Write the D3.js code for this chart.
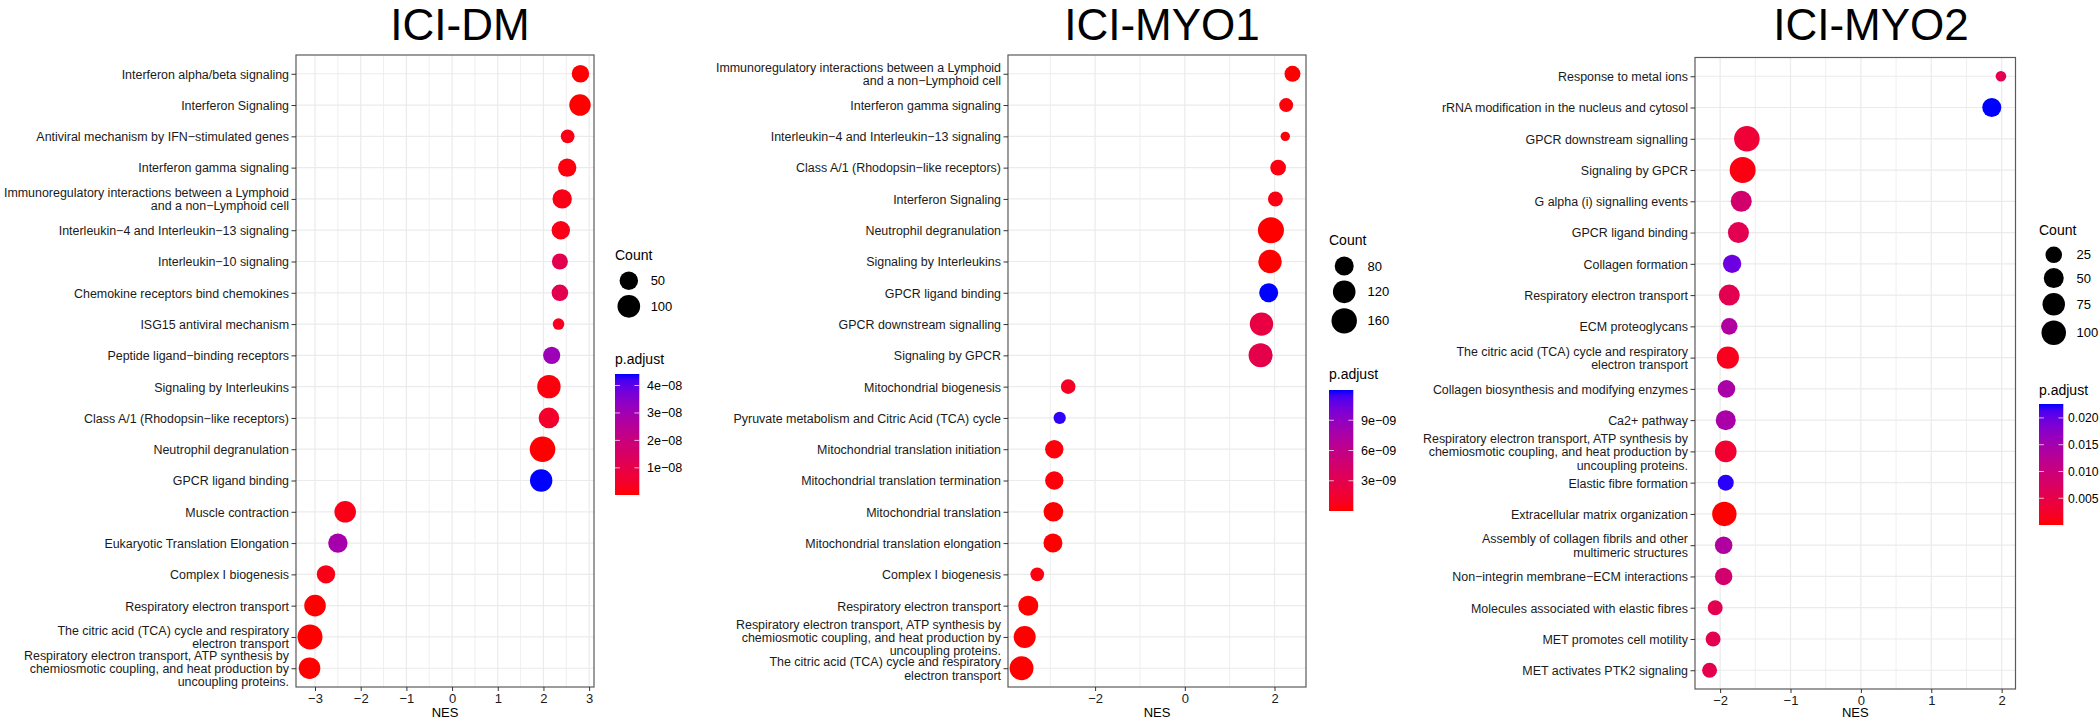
<!DOCTYPE html>
<html><head><meta charset="utf-8">
<script src="https://cdn.jsdelivr.net/npm/d3@7"></script>
<style>
body{margin:0;background:#fff;}
svg{display:block;font-family:"Liberation Sans",Arial,Helvetica,sans-serif;}
</style>
</head><body>
<svg id="c" width="2100" height="721"></svg>
<script>
// ---------------- DATA ----------------
// ICI-DM
const dmTerms = [
 "Interferon alpha/beta signaling",
 "Interferon Signaling",
 "Antiviral mechanism by IFN\u2212stimulated genes",
 "Interferon gamma signaling",
 "Immunoregulatory interactions between a Lymphoid\nand a non\u2212Lymphoid cell",
 "Interleukin\u22124 and Interleukin\u221213 signaling",
 "Interleukin\u221210 signaling",
 "Chemokine receptors bind chemokines",
 "ISG15 antiviral mechanism",
 "Peptide ligand\u2212binding receptors",
 "Signaling by Interleukins",
 "Class A/1 (Rhodopsin\u2212like receptors)",
 "Neutrophil degranulation",
 "GPCR ligand binding",
 "Muscle contraction",
 "Eukaryotic Translation Elongation",
 "Complex I biogenesis",
 "Respiratory electron transport",
 "The citric acid (TCA) cycle and respiratory\nelectron transport",
 "Respiratory electron transport, ATP synthesis by\nchemiosmotic coupling, and heat production by\nuncoupling proteins."
];
const dmNES   = [2.81, 2.80, 2.53, 2.52, 2.41, 2.38, 2.36, 2.36, 2.33, 2.18, 2.12, 2.12, 1.98, 1.95, -2.34, -2.50, -2.76, -3.00, -3.11, -3.12];
const dmCount = [41, 83, 21, 49, 59, 49, 31, 35, 18, 39, 112, 73, 150, 96, 85, 59, 49, 85, 138, 85];
const dmPadj  = [1e-10, 1e-10, 2e-9, 1e-9, 2e-9, 2e-9, 1.1e-8, 1.1e-8, 3e-9, 3.1e-8, 1e-9, 5e-9, 1e-10, 4.42e-8, 2e-9, 2.9e-8, 2e-9, 1e-10, 1e-10, 1e-10];
const dmXTicks = [-3, -2, -1, 0, 1, 2, 3];
const dmCountBreaks = [50, 100];
const dmPadjBreaks = [1e-8, 2e-8, 3e-8, 4e-8];
const dmPadjLabels = ["1e\u221208", "2e\u221208", "3e\u221208", "4e\u221208"];

// ICI-MYO1
const myo1Terms = [
 "Immunoregulatory interactions between a Lymphoid\nand a non\u2212Lymphoid cell",
 "Interferon gamma signaling",
 "Interleukin\u22124 and Interleukin\u221213 signaling",
 "Class A/1 (Rhodopsin\u2212like receptors)",
 "Interferon Signaling",
 "Neutrophil degranulation",
 "Signaling by Interleukins",
 "GPCR ligand binding",
 "GPCR downstream signalling",
 "Signaling by GPCR",
 "Mitochondrial biogenesis",
 "Pyruvate metabolism and Citric Acid (TCA) cycle",
 "Mitochondrial translation initiation",
 "Mitochondrial translation termination",
 "Mitochondrial translation",
 "Mitochondrial translation elongation",
 "Complex I biogenesis",
 "Respiratory electron transport",
 "Respiratory electron transport, ATP synthesis by\nchemiosmotic coupling, and heat production by\nuncoupling proteins.",
 "The citric acid (TCA) cycle and respiratory\nelectron transport"
];
const myo1NES   = [2.40, 2.26, 2.24, 2.08, 2.02, 1.92, 1.90, 1.87, 1.71, 1.69, -2.60, -2.79, -2.91, -2.91, -2.93, -2.94, -3.29, -3.49, -3.57, -3.64];
const myo1Count = [56, 45, 35, 54, 50, 169, 130, 80, 130, 139, 48, 39, 74, 74, 86, 80, 44, 90, 112, 136];
const myo1Padj  = [1e-11, 2e-10, 1e-10, 3e-10, 4e-10, 1e-11, 1e-11, 1.2e-8, 2.4e-9, 2.8e-9, 1e-9, 1.17e-8, 2e-10, 2e-10, 1e-11, 1e-11, 3e-10, 1e-11, 1e-11, 1e-12];
const myo1XTicks = [-2, 0, 2];
const myo1CountBreaks = [80, 120, 160];
const myo1PadjBreaks = [3e-9, 6e-9, 9e-9];
const myo1PadjLabels = ["3e\u221209", "6e\u221209", "9e\u221209"];

// ICI-MYO2
const myo2Terms = [
 "Response to metal ions",
 "rRNA modification in the nucleus and cytosol",
 "GPCR downstream signalling",
 "Signaling by GPCR",
 "G alpha (i) signalling events",
 "GPCR ligand binding",
 "Collagen formation",
 "Respiratory electron transport",
 "ECM proteoglycans",
 "The citric acid (TCA) cycle and respiratory\nelectron transport",
 "Collagen biosynthesis and modifying enzymes",
 "Ca2+ pathway",
 "Respiratory electron transport, ATP synthesis by\nchemiosmotic coupling, and heat production by\nuncoupling proteins.",
 "Elastic fibre formation",
 "Extracellular matrix organization",
 "Assembly of collagen fibrils and other\nmultimeric structures",
 "Non\u2212integrin membrane\u2212ECM interactions",
 "Molecules associated with elastic fibres",
 "MET promotes cell motility",
 "MET activates PTK2 signaling"
];
const myo2NES   = [1.99, 1.86, -1.62, -1.68, -1.70, -1.74, -1.83, -1.87, -1.87, -1.89, -1.91, -1.92, -1.92, -1.92, -1.94, -1.95, -1.95, -2.07, -2.10, -2.15];
const myo2Count = [8, 42, 115, 121, 60, 60, 37, 60, 25, 72, 31, 50, 66, 22, 99, 31, 30, 17, 17, 17];
const myo2Padj  = [0.0057, 0.0226, 0.0034, 0.0007, 0.0086, 0.0057, 0.0197, 0.0057, 0.0136, 0.0014, 0.0143, 0.0143, 0.0027, 0.0222, 0.00001, 0.0136, 0.0086, 0.0057, 0.0057, 0.0055];
const myo2XTicks = [-2, -1, 0, 1, 2];
const myo2CountBreaks = [25, 50, 75, 100];
const myo2PadjBreaks = [0.005, 0.010, 0.015, 0.020];
const myo2PadjLabels = ["0.005", "0.010", "0.015", "0.020"];

// ---------------- LAYOUT ----------------
const panels = [
 {title:"ICI-DM", terms:dmTerms, nes:dmNES, count:dmCount, padj:dmPadj, xTicks:dmXTicks,
  countBreaks:dmCountBreaks, padjBreaks:dmPadjBreaks, padjLabels:dmPadjLabels,
  L:{titleX:460, titleY:40, l:296, r:594, t:55, b:687, rMin:5.8, rMax:12.8,
     legX:615, countTitleY:260, padjTitleY:364, barTop:374, barLabDx:32, barLabFs:12.6}},
 {title:"ICI-MYO1", terms:myo1Terms, nes:myo1NES, count:myo1Count, padj:myo1Padj, xTicks:myo1XTicks,
  countBreaks:myo1CountBreaks, padjBreaks:myo1PadjBreaks, padjLabels:myo1PadjLabels,
  L:{titleX:1162, titleY:40, l:1008, r:1306, t:55, b:687, rMin:4.7, rMax:13,
     legX:1329, countTitleY:245, padjTitleY:379, barTop:390, barLabDx:32, barLabFs:12.6}},
 {title:"ICI-MYO2", terms:myo2Terms, nes:myo2NES, count:myo2Count, padj:myo2Padj, xTicks:myo2XTicks,
  countBreaks:myo2CountBreaks, padjBreaks:myo2PadjBreaks, padjLabels:myo2PadjLabels,
  L:{titleX:1871, titleY:40, l:1695, r:2015.5, t:57.5, b:689, rMin:5.3, rMax:13,
     legX:2039, countTitleY:235, padjTitleY:395, barTop:404, barLabDx:29, barLabFs:12.2}}
];

const svg = d3.select("#c");
const defs = svg.append("defs");
const FF = '"Liberation Sans",Arial,Helvetica,sans-serif';
const FS_Y = 12.45, FS_X = 13, LINE_H = 13.3;
const BAR_W = 24.3, BAR_H = 121;

panels.forEach((p, pi) => {
  const L = p.L;
  const g = svg.append("g");

  // scales
  const ext = d3.extent(p.nes);
  const pad = (ext[1] - ext[0]) * 0.05;
  const x = d3.scaleLinear().domain([ext[0] - pad, ext[1] + pad]).range([L.l, L.r]);
  const y = d3.scalePoint().domain(p.terms).range([L.t, L.b]).padding(0.6);
  const norm = d3.scaleLinear().domain(d3.extent(p.count)).range([0, 1]);
  const rS = d3.scaleSqrt().domain([0, 1]).range([L.rMin, L.rMax]);
  const radius = c => rS(Math.max(0, norm(c)));
  const pExt = d3.extent(p.padj);
  const color = d3.scaleLinear().domain(pExt).range(["#FF0000", "#0000FF"]).interpolate(d3.interpolateLab);

  // title
  g.append("text").attr("x", L.titleX).attr("y", L.titleY)
    .attr("text-anchor", "middle").attr("font-size", 44).attr("fill", "#000").text(p.title);

  // panel background
  g.append("rect").attr("x", L.l).attr("y", L.t).attr("width", L.r - L.l).attr("height", L.b - L.t).attr("fill", "#fff");

  // minor vertical grid
  const step = p.xTicks.length > 1 ? p.xTicks[1] - p.xTicks[0] : 1;
  const dom = x.domain();
  const minors = [];
  for (let v = p.xTicks[0] - step / 2; v <= dom[1]; v += step) {
    if (v >= dom[0] && v <= dom[1]) minors.push(v);
  }
  g.selectAll(".minor").data(minors).join("line")
    .attr("x1", d => x(d)).attr("x2", d => x(d)).attr("y1", L.t).attr("y2", L.b)
    .attr("stroke", "#EBEBEB").attr("stroke-width", 0.8);
  // major vertical grid
  g.selectAll(".majv").data(p.xTicks).join("line")
    .attr("x1", d => x(d)).attr("x2", d => x(d)).attr("y1", L.t).attr("y2", L.b)
    .attr("stroke", "#EBEBEB").attr("stroke-width", 1.2);
  // major horizontal grid
  g.selectAll(".majh").data(p.terms).join("line")
    .attr("x1", L.l).attr("x2", L.r).attr("y1", d => y(d)).attr("y2", d => y(d))
    .attr("stroke", "#EBEBEB").attr("stroke-width", 1.2);

  // points
  g.selectAll(".pt").data(p.terms.map((t, i) => i)).join("circle")
    .attr("cx", i => x(p.nes[i])).attr("cy", i => y(p.terms[i]))
    .attr("r", i => radius(p.count[i]))
    .attr("fill", i => color(p.padj[i]));

  // border
  g.append("rect").attr("x", L.l).attr("y", L.t).attr("width", L.r - L.l).attr("height", L.b - L.t)
    .attr("fill", "none").attr("stroke", "#5a5a5a").attr("stroke-width", 1.2);

  // x axis
  const fmt = d => (d < 0 ? "\u2212" + Math.abs(d) : String(d));
  const xa = g.append("g").attr("transform", `translate(0,${L.b})`)
    .call(d3.axisBottom(x).tickValues(p.xTicks).tickSize(4).tickPadding(3).tickFormat(fmt));
  xa.select(".domain").remove();
  xa.selectAll(".tick line").attr("stroke", "#333");
  xa.selectAll(".tick text").attr("font-size", FS_X).attr("fill", "#1a1a1a").attr("font-family", FF);
  g.append("text").attr("x", (L.l + L.r) / 2).attr("y", Math.min(L.b + 31, 717))
    .attr("text-anchor", "middle").attr("font-size", FS_X).attr("fill", "#000").text("NES");

  // y axis
  const ya = g.append("g").attr("transform", `translate(${L.l},0)`)
    .call(d3.axisLeft(y).tickSize(4.5).tickPadding(2.5));
  ya.select(".domain").remove();
  ya.selectAll(".tick line").attr("stroke", "#333");
  ya.selectAll(".tick text").each(function(d) {
    const t = d3.select(this);
    const lines = d.split("\n");
    t.text(null).attr("dy", null)
      .attr("font-size", FS_Y).attr("fill", "#1a1a1a").attr("font-family", FF);
    lines.forEach((ln, k) => {
      const off = (k - (lines.length - 1) / 2) * LINE_H;
      t.append("tspan").attr("x", -7).attr("y", off).attr("dy", "0.35em").text(ln);
    });
  });

  // ----- Count legend -----
  const lg = g.append("g");
  lg.append("text").attr("x", L.legX).attr("y", L.countTitleY).attr("font-size", 14).attr("fill", "#000").text("Count");
  const rads = p.countBreaks.map(radius);
  const maxD = 2 * d3.max(rads);
  let cy = L.countTitleY + 9;
  p.countBreaks.forEach((b, k) => {
    const h = 2 * rads[k] + 5;
    const cyc = cy + h / 2;
    lg.append("circle").attr("cx", L.legX + (maxD + 5) / 2).attr("cy", cyc).attr("r", rads[k]).attr("fill", "#000");
    lg.append("text").attr("x", L.legX + maxD + 13).attr("y", cyc).attr("dy", "0.35em")
      .attr("font-size", 13).attr("fill", "#000").text(b);
    cy += h;
  });

  // ----- p.adjust colorbar -----
  lg.append("text").attr("x", L.legX).attr("y", L.padjTitleY).attr("font-size", 14).attr("fill", "#000").text("p.adjust");
  const gid = "grad" + pi;
  const grad = defs.append("linearGradient").attr("id", gid)
    .attr("x1", 0).attr("y1", 1).attr("x2", 0).attr("y2", 0);
  d3.range(0, 1.0001, 0.05).forEach(s => {
    grad.append("stop").attr("offset", s).attr("stop-color", color(pExt[0] + s * (pExt[1] - pExt[0])));
  });
  lg.append("rect").attr("x", L.legX).attr("y", L.barTop).attr("width", BAR_W).attr("height", BAR_H)
    .attr("fill", `url(#${gid})`);
  const by = d3.scaleLinear().domain(pExt).range([L.barTop + BAR_H, L.barTop]);
  p.padjBreaks.forEach((b, k) => {
    const yy = by(b);
    lg.append("line").attr("x1", L.legX).attr("x2", L.legX + 4.9).attr("y1", yy).attr("y2", yy)
      .attr("stroke", "#fff").attr("stroke-opacity", 0.7).attr("stroke-width", 1);
    lg.append("line").attr("x1", L.legX + BAR_W - 4.9).attr("x2", L.legX + BAR_W).attr("y1", yy).attr("y2", yy)
      .attr("stroke", "#fff").attr("stroke-opacity", 0.7).attr("stroke-width", 1);
    lg.append("text").attr("x", L.legX + L.barLabDx).attr("y", yy).attr("dy", "0.35em")
      .attr("font-size", L.barLabFs).attr("fill", "#000").text(p.padjLabels[k]);
  });
});
</script>
</body></html>
